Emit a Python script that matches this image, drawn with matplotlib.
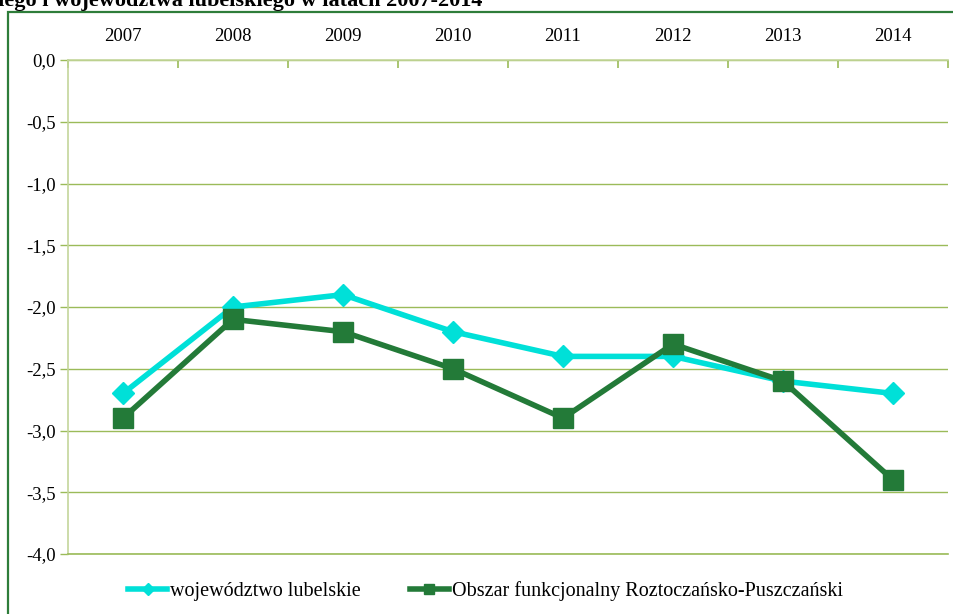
import matplotlib
matplotlib.use('Agg')
import matplotlib.pyplot as plt
from matplotlib.patches import Rectangle

# data
years = ['2007', '2008', '2009', '2010', '2011', '2012', '2013', '2014']
lubelskie = [-2.7, -2.0, -1.9, -2.2, -2.4, -2.4, -2.6, -2.7]
obszar = [-2.9, -2.1, -2.2, -2.5, -2.9, -2.3, -2.6, -3.4]
labels = ['województwo lubelskie', 'Obszar funkcjonalny Roztoczańsko-Puszczański']
title = 'Roztoczańsko-Puszczańskiego i województwa lubelskiego w latach 2007-2014'

plt.rcParams['font.family'] = ['Liberation Serif', 'DejaVu Serif']

W, H = 954, 614
fig = plt.figure(figsize=(W / 100, H / 100), dpi=100)

# outer frame of the chart (right and bottom run off the picture)
fig.patches.append(Rectangle((8 / W, -0.1), 1.2, 1 - 12 / H + 0.1, transform=fig.transFigure,
                             fill=False, edgecolor='#2e7d3a', linewidth=1.6, zorder=0))

# title, cut off at the very top as in the source
fig.text(482 / W, 1 - 6 / H, title, ha='right', va='baseline', fontsize=16,
         fontweight='bold', color='black')

ax = fig.add_axes([68 / W, 1 - 554 / H, 880 / W, 494 / H])
x = list(range(len(years)))

grid = '#9bbb59'
ax.set_ylim(-4.0, 0.0)
ax.set_xlim(-0.5, len(years) - 0.5)
ax.set_yticks([-4.0 + 0.5 * i for i in range(9)])
ax.set_yticklabels([('%.1f' % v).replace('.', ',') for v in ax.get_yticks()], fontsize=13.5)
ax.yaxis.grid(True, color=grid, linewidth=1.0)
ax.set_axisbelow(True)

ax.xaxis.tick_top()
ax.set_xticks(x)
ax.set_xticklabels(years, fontsize=13.5)
ax.tick_params(axis='x', length=0, pad=11)
ax.set_xticks([i - 0.5 for i in range(len(years) + 1)], minor=True)
ax.tick_params(axis='x', which='minor', direction='in', length=6, color=grid, width=1.2)
ax.tick_params(axis='y', length=6, color=grid, width=1.0, pad=3)

ax.spines['right'].set_visible(False)
for s in ['top', 'left', 'bottom']:
    ax.spines[s].set_color('#c3d69b')
    ax.spines[s].set_linewidth(1.2)
ax.spines['bottom'].set_color(grid)

ax.plot(x, lubelskie, color='#00e0d8', linewidth=4, marker='D', markersize=11,
        label=labels[0], zorder=3)
ax.plot(x, obszar, color='#237a38', linewidth=4, marker='s', markersize=14,
        label=labels[1], zorder=4)

fig.legend(loc='center left', bbox_to_anchor=(110 / W, 1 - 591 / H), ncol=2, frameon=False,
           fontsize=14.5, handlelength=1.95, handletextpad=0.15, columnspacing=2.4,
           markerscale=0.55)

fig.savefig('out.png', dpi=100)
